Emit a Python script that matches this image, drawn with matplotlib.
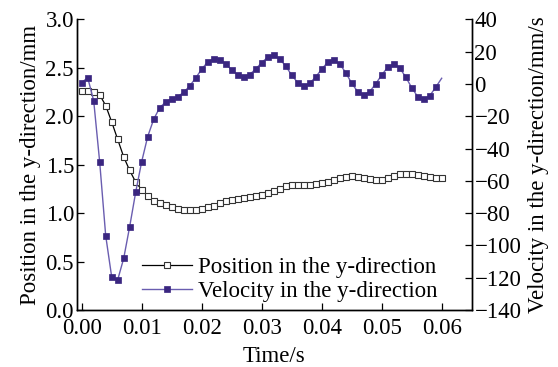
import numpy as np
import matplotlib
matplotlib.use("Agg")
import matplotlib.pyplot as plt

# Data (t in s, step 0.001)
time = [i * 0.001 for i in range(61)]
position = [2.26, 2.26, 2.25, 2.22, 2.11, 1.94, 1.76, 1.58, 1.44, 1.32,
            1.24, 1.18, 1.13, 1.105, 1.08, 1.065, 1.045, 1.03, 1.03, 1.03,
            1.04, 1.058, 1.075, 1.106, 1.124, 1.137, 1.147, 1.158, 1.17, 1.175,
            1.19, 1.21, 1.23, 1.25, 1.28, 1.29, 1.29, 1.29, 1.29, 1.30,
            1.31, 1.32, 1.34, 1.36, 1.375, 1.38, 1.372, 1.36, 1.35, 1.34,
            1.34, 1.36, 1.38, 1.40, 1.405, 1.40, 1.395, 1.385, 1.37, 1.36,
            1.36]
velocity = [0.8, 3.9, -10.5, -48.5, -94.0, -119.6, -121.3, -108.0, -88.3, -67.0,
            -48.1, -32.6, -21.9, -14.7, -11.2, -9.3, -7.9, -5.2, -1.3, 3.7,
            9.1, 13.6, 15.4, 15.0, 12.5, 8.6, 5.5, 4.5, 5.8, 9.2,
            13.2, 16.5, 17.7, 15.4, 11.1, 5.4, 0.8, -1.3, 0.4, 4.3,
            9.1, 13.4, 14.6, 12.4, 7.0, 0.4, -4.8, -6.8, -4.8, 0.0,
            5.5, 10.3, 12.2, 9.9, 4.3, -2.3, -7.9, -9.5, -7.4, -2.1,
            3.5]
xticks = [0.00, 0.01, 0.02, 0.03, 0.04, 0.05, 0.06]
yticks_left = [0.0, 0.5, 1.0, 1.5, 2.0, 2.5, 3.0]
yticks_right = list(range(-140, 41, 20))

plt.rcParams['font.family'] = ['Liberation Serif', 'DejaVu Serif']
FS = 16.5

fig = plt.figure(figsize=(5.58, 3.67), dpi=100)
ax = fig.add_axes([0.1375, 0.1553, 0.7078, 0.7921])
ax2 = ax.twinx()

purple_line = '#6a5db0'
purple_mark = '#3a2680'

l1, = ax.plot(time, position, '-', color='black', lw=0.9,
              marker='s', markersize=3.8, markerfacecolor='white',
              markeredgecolor='#333333', markeredgewidth=0.8,
              label='Position in the y-direction')
l2, = ax2.plot(time, velocity, '-', color=purple_line, lw=1.0,
               marker='s', markersize=4.4, markerfacecolor=purple_mark,
               markeredgecolor=purple_mark, markeredgewidth=0.5,
               markevery=list(range(60)),
               label='Velocity in the y-direction')

ax.set_xlim(-0.00083, 0.065)
ax.set_ylim(0.0, 3.0)
ax2.set_ylim(-140, 40)
ax.set_xticks(xticks)
ax.set_xticklabels([f"{v:.2f}" for v in xticks])
ax.set_yticks(yticks_left)
ax.set_yticklabels([f"{v:.1f}" for v in yticks_left])
ax2.set_yticks(yticks_right)
ax2.set_yticklabels([(f"\u2212{abs(v)}" if v < 0 else f"{v}") for v in yticks_right])

for a in (ax, ax2):
    a.spines['top'].set_visible(False)
    a.tick_params(direction='in', length=5, width=0.9, labelsize=FS, pad=2)
    for s in a.spines.values():
        s.set_linewidth(1.0)
ax.tick_params(axis='x', pad=6)

ax.set_xlabel('Time/s', fontsize=FS, labelpad=5)
ax.set_ylabel('Position in the y-direction/mm', fontsize=FS, labelpad=3)
ax2.set_ylabel('Velocity in the y-direction/mm/s', fontsize=FS, labelpad=5)

ax.legend(handles=[l1, l2], loc='upper left', bbox_to_anchor=(0.165, 0.183),
          frameon=False, fontsize=FS, handlelength=2.2, handletextpad=0.25,
          labelspacing=0.15, borderpad=0, borderaxespad=0)

fig.savefig('out.png', dpi=100)
